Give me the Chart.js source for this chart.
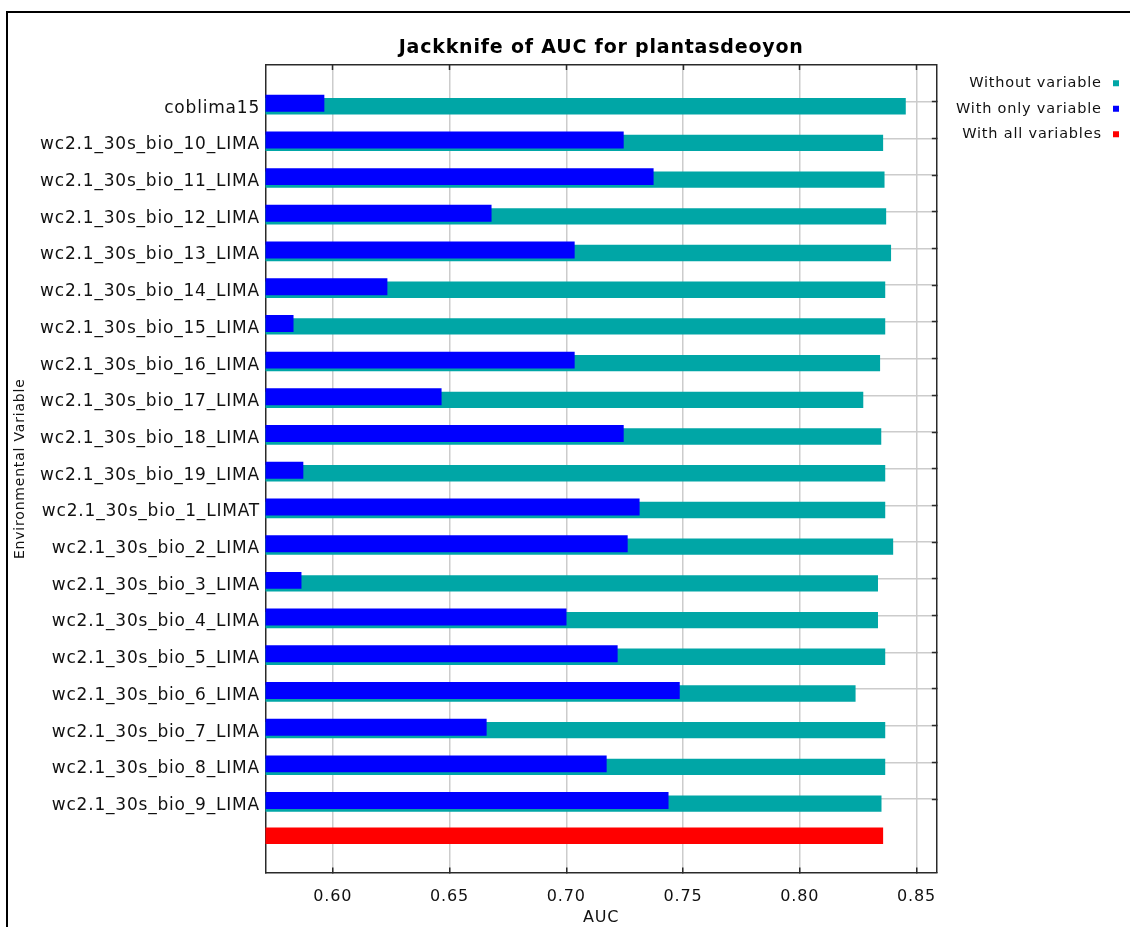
<!DOCTYPE html>
<html>
<head>
<meta charset="utf-8">
<script src="https://cdn.jsdelivr.net/npm/chart.js@4/dist/chart.umd.min.js"></script>
<style>
  html, body { margin: 0; padding: 0; background: #fff; overflow: hidden; width: 1130px; height: 927px; }
  #frame { position: absolute; left: 6px; top: 11px; width: 1200px; height: 1000px;
           border-left: 2px solid #000; border-top: 2px solid #000; }
  #box { position: absolute; left: 8px; top: 13px; width: 1126px; height: 914px; }
</style>
</head>
<body>
<div id="frame"></div>
<div id="box"><canvas id="jackknife"></canvas></div>
<script>
// Environmental variables, top to bottom
const variables = [
  'coblima15',
  'wc2.1_30s_bio_10_LIMA',
  'wc2.1_30s_bio_11_LIMA',
  'wc2.1_30s_bio_12_LIMA',
  'wc2.1_30s_bio_13_LIMA',
  'wc2.1_30s_bio_14_LIMA',
  'wc2.1_30s_bio_15_LIMA',
  'wc2.1_30s_bio_16_LIMA',
  'wc2.1_30s_bio_17_LIMA',
  'wc2.1_30s_bio_18_LIMA',
  'wc2.1_30s_bio_19_LIMA',
  'wc2.1_30s_bio_1_LIMAT',
  'wc2.1_30s_bio_2_LIMA',
  'wc2.1_30s_bio_3_LIMA',
  'wc2.1_30s_bio_4_LIMA',
  'wc2.1_30s_bio_5_LIMA',
  'wc2.1_30s_bio_6_LIMA',
  'wc2.1_30s_bio_7_LIMA',
  'wc2.1_30s_bio_8_LIMA',
  'wc2.1_30s_bio_9_LIMA'
];

// Test AUC of the model built without each variable
const withoutVariable = [
  0.8454, 0.8357, 0.8363, 0.8370, 0.8391, 0.8366, 0.8366, 0.8344, 0.8272, 0.8349,
  0.8366, 0.8366, 0.8400, 0.8335, 0.8335, 0.8366, 0.8239, 0.8366, 0.8366, 0.8350
];

// Test AUC of the model built with only each variable
const withOnlyVariable = [
  0.5964, 0.7246, 0.7374, 0.6680, 0.7036, 0.6234, 0.5832, 0.7036, 0.6466, 0.7246,
  0.5874, 0.7314, 0.7263, 0.5866, 0.7001, 0.7220, 0.7486, 0.6659, 0.7173, 0.7438
];

// Test AUC of the full model
const withAllVariables = 0.8357;

// AUC axis
const aucTicks = [0.60, 0.65, 0.70, 0.75, 0.80, 0.85];
const aucMin = 0.5712;
const aucMax = 0.8587;

const seriesNames = ['Without variable', 'With only variable', 'With all variables'];
const seriesColors = { without: '#00a6a6', only: '#0000ff', all: '#ff0000' };

// Category rows: an empty row above, the variables, the full-model row, an empty row below
const rows = [''].concat(variables, ['', '']);
const onVariableRows = v => [null].concat(v, [null, null]);
const fullModelRow = rows.map((r, i) => (i === variables.length + 1 ? withAllVariables : null));
const isVariableRow = i => i >= 1 && i <= variables.length;

const GRID = '#cccccc';
const INK = '#111111';
const AXIS = '#2a2a2a';

Chart.defaults.font.family = '"DejaVu Sans", sans-serif';
Chart.defaults.color = INK;

// Slightly tracked lettering for all chart text
const tracking = {
  id: 'tracking',
  beforeUpdate(chart) { chart.ctx.letterSpacing = '0.8px'; },
  beforeDraw(chart) { chart.ctx.letterSpacing = '0.8px'; }
};

const setAucTicks = s => { s.ticks = aucTicks.map(v => ({ value: v })); };

new Chart(document.getElementById('jackknife'), {
  type: 'bar',
  data: {
    labels: rows,
    datasets: [
      // two empty groups so the paired bars sit just below each row line
      { label: '', data: [], categoryPercentage: 0.327, barPercentage: 5.5 },
      { label: '', data: [], categoryPercentage: 0.327, barPercentage: 5.5 },
      {
        label: seriesNames[1],
        data: onVariableRows(withOnlyVariable),
        backgroundColor: seriesColors.only,
        borderWidth: 0,
        categoryPercentage: 0.327,
        barPercentage: 5.65
      },
      {
        label: seriesNames[0],
        data: onVariableRows(withoutVariable),
        backgroundColor: seriesColors.without,
        borderWidth: 0,
        categoryPercentage: 0.327,
        barPercentage: 5.45
      },
      {
        label: seriesNames[2],
        data: fullModelRow,
        backgroundColor: seriesColors.all,
        borderWidth: 0,
        grouped: false,
        categoryPercentage: 1,
        barPercentage: 0.453
      }
    ]
  },
  options: {
    indexAxis: 'y',
    responsive: true,
    maintainAspectRatio: false,
    animation: false,
    events: [],
    layout: { padding: 0 },
    scales: {
      x: {
        type: 'linear',
        position: 'bottom',
        min: aucMin,
        max: aucMax,
        afterBuildTicks: setAucTicks,
        ticks: {
          callback: v => Number(v).toFixed(2),
          padding: 20,
          maxRotation: 0,
          font: { size: 16 },
          color: INK
        },
        grid: { color: GRID, lineWidth: 1.5, tickLength: -5, tickColor: AXIS, tickWidth: 1.5 },
        border: { color: AXIS, width: 1.5 },
        title: { display: true, text: 'AUC', font: { size: 16 }, color: INK, padding: { top: 0, bottom: 0 } },
        afterFit: s => { s.height = 54.5; }
      },
      x2: {
        type: 'linear',
        position: 'top',
        min: aucMin,
        max: aucMax,
        afterBuildTicks: setAucTicks,
        ticks: { display: false },
        grid: { drawOnChartArea: false, tickLength: -5, tickColor: AXIS, tickWidth: 1.5 },
        border: { color: AXIS, width: 1.5 },
        afterFit: s => { s.height = 0; }
      },
      y: {
        type: 'category',
        position: 'left',
        labels: rows,
        offset: false,
        ticks: { autoSkip: false, padding: 5.5, labelOffset: 6.5, font: { size: 17 }, color: INK },
        grid: {
          offset: false,
          drawTicks: false,
          lineWidth: 1.5,
          color: c => (isVariableRow(c.index) ? GRID : 'rgba(0,0,0,0)')
        },
        border: { color: AXIS, width: 1.5 },
        title: {
          display: true,
          text: 'Environmental Variable',
          font: { size: 14 },
          color: INK,
          padding: { top: 3.6, bottom: 0 }
        },
        afterFit: s => { s.width = 257.5; }
      },
      y2: {
        type: 'category',
        position: 'right',
        labels: rows,
        offset: false,
        ticks: { display: false, autoSkip: false },
        grid: {
          offset: false,
          drawOnChartArea: false,
          tickLength: -5,
          tickWidth: 1.5,
          tickColor: c => (isVariableRow(c.index) ? AXIS : 'rgba(0,0,0,0)')
        },
        border: { color: AXIS, width: 1.5 },
        afterFit: s => { s.width = 9.5; }
      }
    },
    plugins: {
      title: {
        display: true,
        text: 'Jackknife of AUC for plantasdeoyon',
        fullSize: false,
        font: { size: 19, weight: 'bold' },
        color: '#000000',
        padding: { top: 23.2, bottom: 6 }
      },
      legend: {
        position: 'right',
        align: 'start',
        fullSize: false,
        rtl: true,
        labels: {
          usePointStyle: true,
          pointStyle: 'rect',
          boxWidth: 14,
          boxHeight: 6,
          padding: 11,
          font: { size: 14.5 },
          color: INK,
          filter: item => item.text !== '',
          sort: (a, b) => seriesNames.indexOf(a.text) - seriesNames.indexOf(b.text)
        }
      },
      tooltip: { enabled: false }
    }
  },
  plugins: [tracking]
});
</script>
</body>
</html>
